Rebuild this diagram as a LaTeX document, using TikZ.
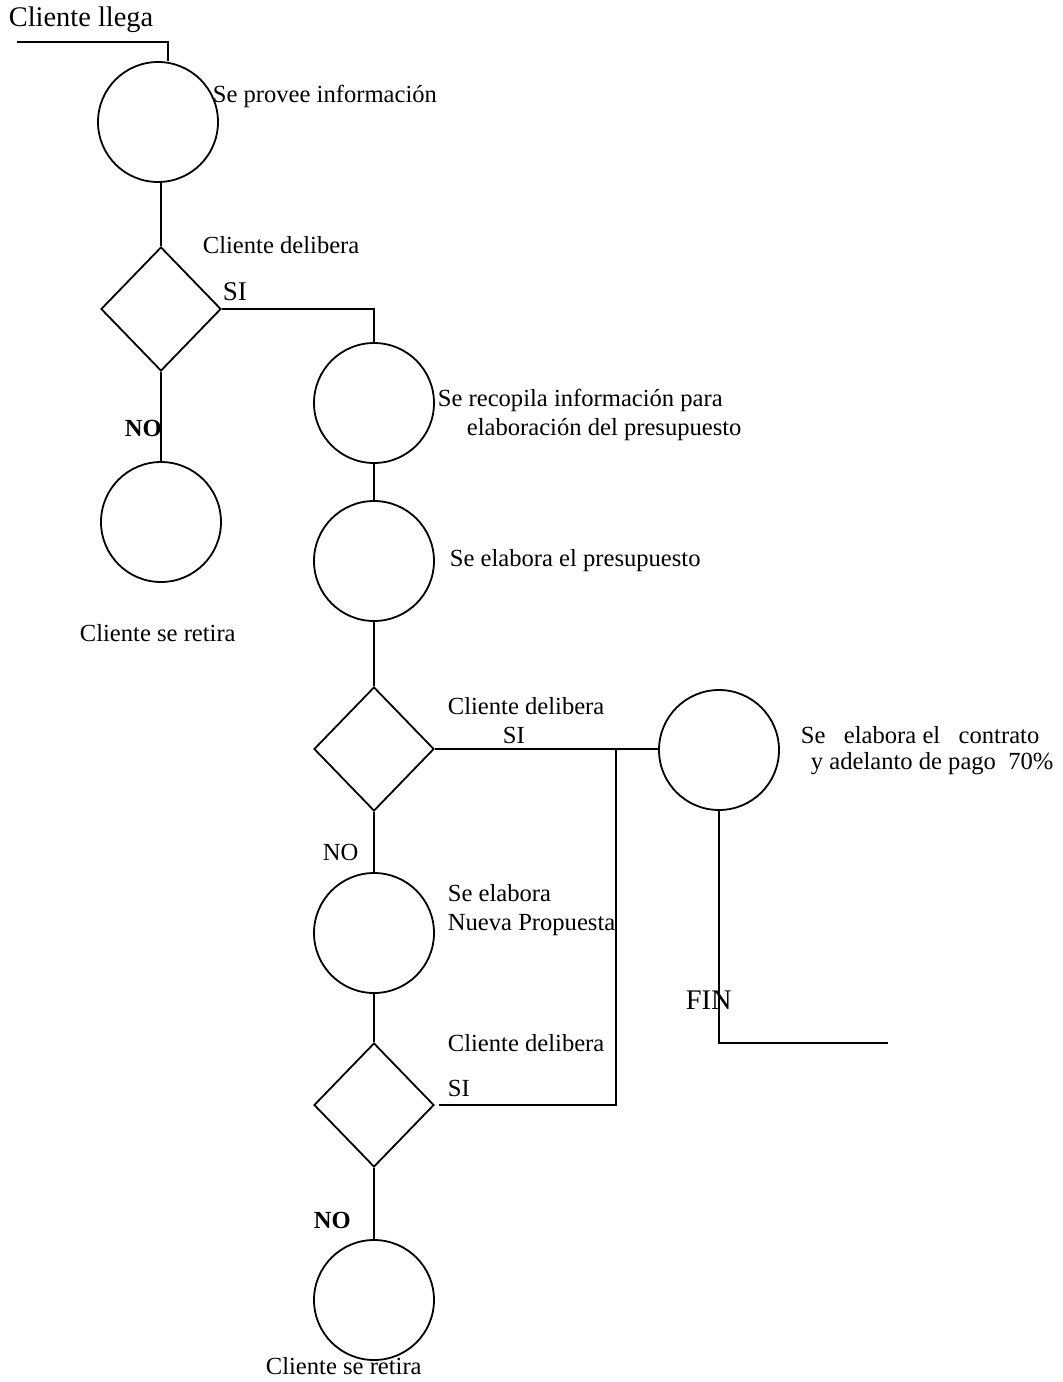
\documentclass[tikz,border=0pt]{standalone}
\usepackage{fontspec}
\setmainfont{Liberation Serif}
\usetikzlibrary{shapes.geometric, positioning}

\begin{document}
\begin{tikzpicture}[x=0.5pt, y=-0.5pt, line width=0.9pt, every node/.style={font=\fontsize{12.3}{14.5}\selectfont}]
    \tikzset{proc/.style={circle, draw, minimum size=60pt, inner sep=0pt},
             dec/.style={diamond, draw, minimum width=60pt, minimum height=62pt, inner sep=0pt},
             lbl/.style={anchor=west, inner sep=0pt},
             big/.style={lbl, font=\fontsize{14.2}{16}\selectfont}}
    \useasboundingbox (0,0) rectangle (1062,1382);
    % left column
    \node[proc] (info) at (158,122) {};
    \node[dec] (del1) at (161,309) {};
    \node[proc] (ret1) at (161,522) {};
    % middle column
    \node[proc] (recop) at (374,403) {};
    \node[proc] (presu) at (374,561) {};
    \node[dec] (del2) at (374,749) {};
    \node[proc] (nueva) at (374,933) {};
    \node[dec] (del3) at (374,1105) {};
    \node[proc] (ret2) at (374,1300) {};
    % right column
    \node[proc] (contr) at (719,750) {};
    \coordinate (start) at (17,42);
    \coordinate (corner) at (168,42);
    \coordinate (junA) at (616,749);
    \coordinate (finend) at (888,1043);
    % texts
    \node[big] (tllega) at (8,20) {Cliente llega};
    \node[lbl] (tinfo) at (212,96) {Se provee información};
    \node[lbl] (tdel1) at (202,245) {Cliente delibera};
    \node[lbl, font=\fontsize{13.5}{15}\selectfont] (tsi1) at (222,292) {SI};
    \node[lbl, font=\fontsize{12.3}{14.5}\selectfont\bfseries] (tno1) at (124,428) {NO};
    \node[lbl] (trec1) at (437,400) {Se recopila información para};
    \node[lbl] (trec2) at (466,430) {elaboración del presupuesto};
    \node[lbl] (tpresu) at (449,561) {Se elabora el presupuesto};
    \node[lbl] (tret1) at (79,633) {Cliente se retira};
    \node[lbl] (tdel2) at (447,706) {Cliente delibera};
    \node[lbl] (tsi2) at (502,735) {SI};
    \node[lbl] (tcon1) at (800,735) {Se\ \ \ elabora el\ \ \ contrato};
    \node[lbl] (tcon2) at (810,764) {y adelanto de pago\ \ 70\%};
    \node[lbl] (tno2) at (322,852) {NO};
    \node[lbl, align=left] (tnueva) at (447,910) {Se elabora\\Nueva Propuesta};
    \node[big] (tfin) at (685,1000) {FIN};
    \node[lbl] (tdel3) at (447,1043) {Cliente delibera};
    \node[lbl] (tsi3) at (447,1088) {SI};
    \node[lbl, font=\fontsize{12.3}{14.5}\selectfont\bfseries] (tno3) at (313,1220) {NO};
    \node[lbl] (tret2) at (265,1366) {Cliente se retira};
    % connectors
    \draw (start) -- (corner) -- (corner |- info.north);
    \draw (info.south -| del1.north) -- (del1.north);
    \draw (del1.south) -- (ret1.north);
    \draw (del1.east) -| (recop.north);
    \draw (recop.south) -- (presu.north);
    \draw (presu.south) -- (del2.north);
    \draw (del2.south) -- (nueva.north);
    \draw (nueva.south) -- (del3.north);
    \draw (del3.south) -- (ret2.north);
    \draw (del2.east) -- (del2.east -| contr.west);
    \draw ([xshift=2pt]del3.east) -- (del3.east -| junA) -- (junA);
    \draw (contr.south) |- (finend);
\end{tikzpicture}
\end{document}
